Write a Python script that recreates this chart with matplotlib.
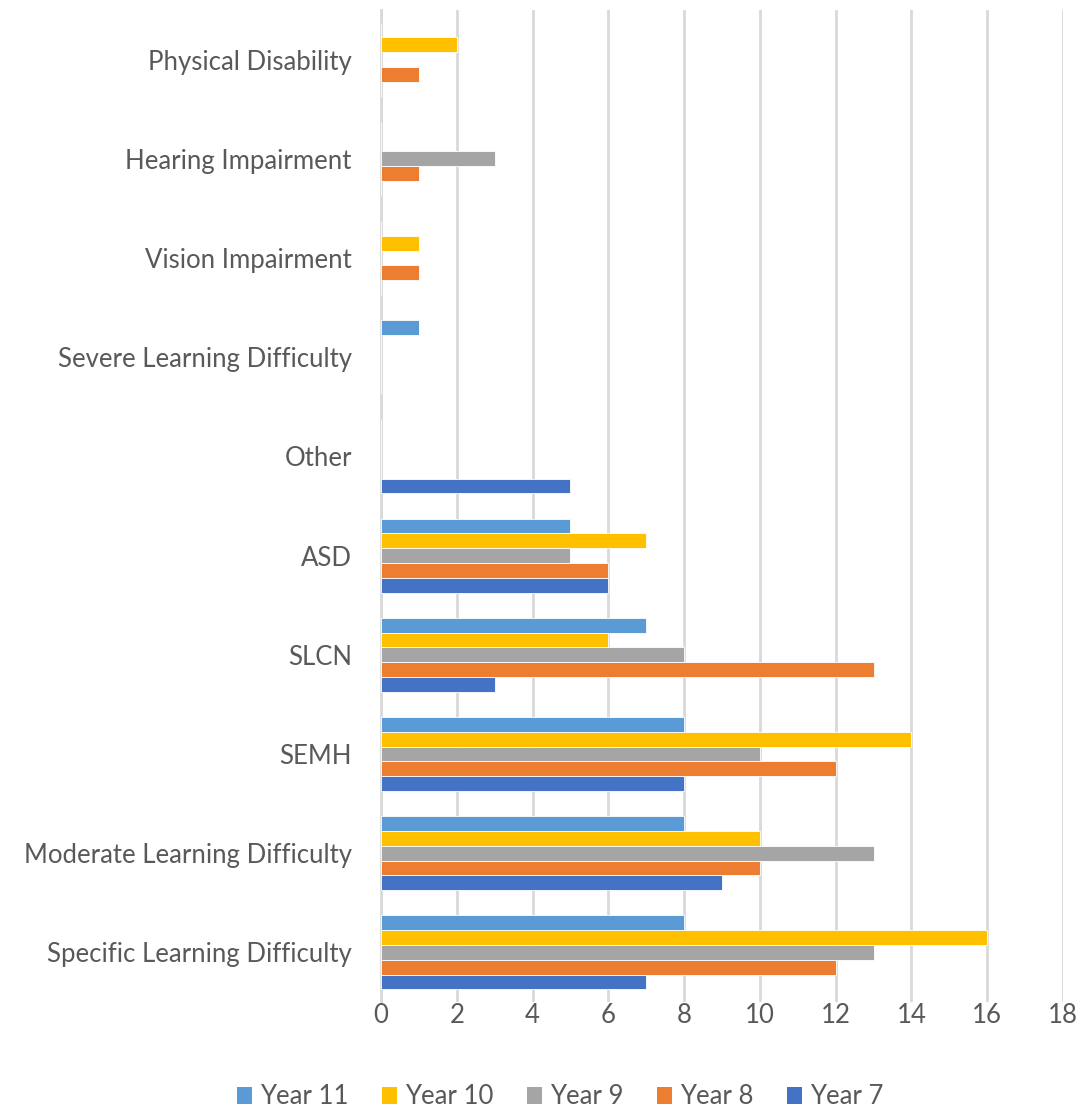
import numpy as np
import matplotlib.pyplot as plt
from matplotlib.patches import Patch

categories = [
    "Specific Learning Difficulty",
    "Moderate Learning Difficulty",
    "SEMH",
    "SLCN",
    "ASD",
    "Other",
    "Severe Learning Difficulty",
    "Vision Impairment",
    "Hearing Impairment",
    "Physical Disability",
]

series_names = ["Year 7", "Year 8", "Year 9", "Year 10", "Year 11"]
year7 = [7, 9, 8, 3, 6, 5, 0, 0, 0, 0]
year8 = [12, 10, 12, 13, 6, 0, 0, 1, 1, 1]
year9 = [13, 13, 10, 8, 5, 0, 0, 0, 3, 0]
year10 = [16, 10, 14, 6, 7, 0, 0, 1, 0, 2]
year11 = [8, 8, 8, 7, 5, 0, 1, 0, 0, 0]

colors = ["#4472C4", "#ED7D31", "#A5A5A5", "#FFC000", "#5B9BD5"]
text_color = "#595959"

plt.rcParams["font.family"] = ["Lato", "DejaVu Sans"]

fig = plt.figure(figsize=(10.9, 11.2), dpi=100)
ax = fig.add_axes([381 / 1090, 1 - 1002 / 1120, (1063 - 381) / 1090, (1002 - 10) / 1120])

y = np.arange(len(categories))
h = 0.149
all_series = [year7, year8, year9, year10, year11]
for i, (vals, c) in enumerate(zip(all_series, colors)):
    offs = (i - 2) * h
    ax.barh(y + offs, vals, height=h, color=c, edgecolor="white", linewidth=0.6, zorder=3)

ax.set_xlim(0, 18)
ax.set_ylim(-0.5, len(categories) - 0.5)
ax.set_xticks(np.arange(0, 19, 2))
ax.set_yticks(y)
ax.set_yticklabels(categories)
ax.xaxis.grid(True, color="#D9D9D9", linewidth=2, zorder=0)
ax.axvline(0, color="#D9D9D9", linewidth=2, zorder=0, clip_on=False)
ax.set_axisbelow(True)
for s in ax.spines.values():
    s.set_visible(False)
ax.tick_params(axis="both", length=0, colors=text_color, labelsize=18.5)
ax.tick_params(axis="y", pad=21)
ax.tick_params(axis="x", pad=1)

handles = [Patch(facecolor=c, label=n) for n, c in zip(series_names, colors)]
handles = handles[::-1]
fig.legend(handles=handles, loc="center", bbox_to_anchor=(560 / 1090, 1 - 1097 / 1120),
           ncol=5, frameon=False, fontsize=18.5, labelcolor=text_color,
           handlelength=0.6, handleheight=0.6, handletextpad=0.3, columnspacing=1.3)

fig.savefig("out.png", dpi=100)
